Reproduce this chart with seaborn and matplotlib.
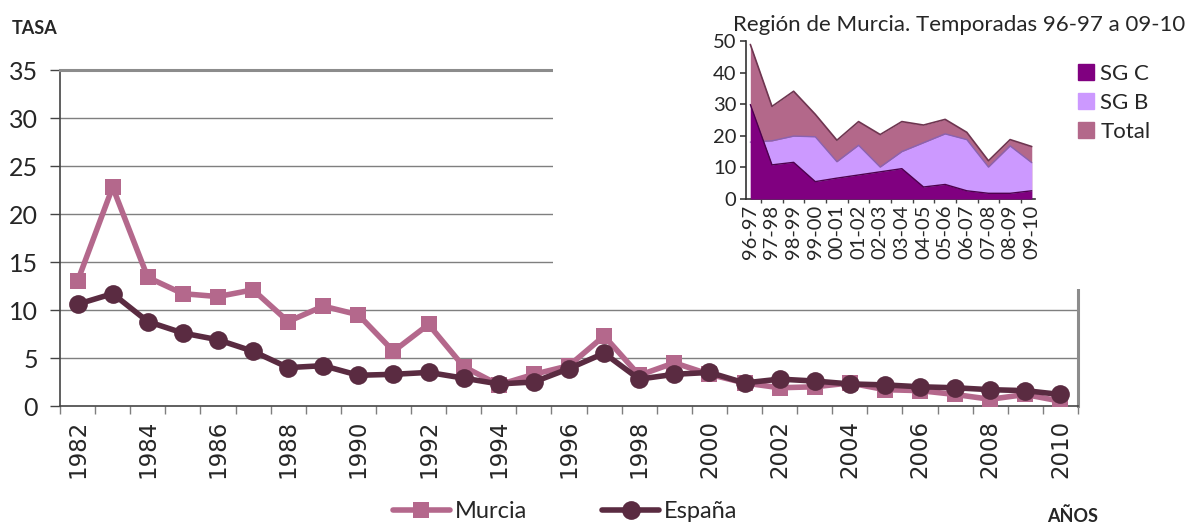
import matplotlib
matplotlib.use("Agg")
import matplotlib.pyplot as plt
import seaborn as sns
import numpy as np
import pandas as pd
from matplotlib.patches import Rectangle
from matplotlib.lines import Line2D

years = list(range(1982, 2011))
murcia = [13.0, 22.8, 13.4, 11.7, 11.4, 12.1, 8.8, 10.4, 9.5, 5.7, 8.5, 4.1, 2.2, 3.3, 4.2,
          7.3, 3.2, 4.5, 3.3, 2.4, 1.9, 2.0, 2.4, 1.7, 1.6, 1.2, 0.7, 1.2, 0.5]
espana = [10.6, 11.7, 8.8, 7.6, 6.9, 5.7, 4.0, 4.2, 3.2, 3.3, 3.5, 2.9, 2.3, 2.5, 3.9,
          5.5, 2.8, 3.3, 3.5, 2.4, 2.8, 2.6, 2.3, 2.2, 2.0, 1.9, 1.7, 1.6, 1.2]

seasons = ["96-97", "97-98", "98-99", "99-00", "00-01", "01-02", "02-03", "03-04",
           "04-05", "05-06", "06-07", "07-08", "08-09", "09-10"]
total = [48.9, 29.3, 34.1, 26.8, 18.6, 24.5, 20.4, 24.5, 23.4, 25.2, 21.1, 12.1, 18.8, 16.6]
sg_b = [18.0, 18.4, 19.9, 19.7, 11.8, 17.0, 10.1, 15.0, 17.8, 20.6, 18.8, 10.1, 16.8, 11.5]
sg_c = [29.9, 10.8, 11.6, 5.5, 6.6, 7.6, 8.6, 9.6, 3.8, 4.6, 2.6, 1.8, 1.8, 2.6]

C_MURCIA = "#B4688C"
C_ESP = "#5A2B41"
C_SGC = "#800080"
C_SGB = "#CC99FF"
C_TOT = "#B3688A"

sns.set_theme(style="white")
plt.rcParams['font.family'] = ['Lato', 'DejaVu Sans']

W, H = 1186, 525
fig = plt.figure(figsize=(W / 100, H / 100), dpi=100)

def fx(px):
    return px / W

def fy(py):
    return 1 - py / H

# ---------------- main chart ----------------
ax = fig.add_axes([fx(60), fy(406), fx(1078 - 60), (406 - 70) / H])
df = pd.DataFrame({"x": np.arange(len(years)), "Murcia": murcia, "España": espana})
sns.lineplot(data=df, x="x", y="Murcia", ax=ax, color=C_MURCIA, lw=4.0,
             marker="s", markersize=12, markeredgewidth=0, zorder=3)
sns.lineplot(data=df, x="x", y="España", ax=ax, color=C_ESP, lw=4.0,
             marker="o", markersize=13.5, markeredgewidth=0, zorder=4)
ax.set_xlim(-0.5, len(years) - 0.5)
ax.set_ylim(0, 35)
ax.set_yticks(range(0, 36, 5))
ax.set_yticklabels([str(v) for v in range(0, 36, 5)], fontsize=18)
for v in range(5, 35, 5):
    ax.axhline(v, color="#7f7f7f", lw=1.0, zorder=1)
ax.set_xticks(np.arange(0, len(years), 2))
ax.set_xticklabels([str(y) for y in years[::2]], rotation=90, fontsize=16.5,
                   family="DejaVu Sans")
ax.set_xticks(np.arange(-0.5, len(years), 1), minor=True)
ax.tick_params(axis="x", which="major", length=0, pad=10)
ax.tick_params(axis="x", which="minor", length=6, width=1, color="#7f7f7f", direction="out", bottom=True)
ax.tick_params(axis="y", which="major", length=7, width=1, color="#444444", direction="out", left=True, pad=9)
ax.set_xlabel("")
ax.set_ylabel("")
for s in ["left", "bottom"]:
    ax.spines[s].set_color("#444444")
    ax.spines[s].set_linewidth(1.2)
for s in ["top", "right"]:
    ax.spines[s].set_color("#8c8c8c")
    ax.spines[s].set_linewidth(2.2)
ax.set_facecolor("white")

fig.text(fx(12), fy(28), "TASA", fontsize=13, fontweight="bold", va="center", ha="left")
fig.text(fx(1047), fy(516), "AÑOS", fontsize=13, fontweight="bold", va="center", ha="left")

handles = [Line2D([], [], color=C_MURCIA, lw=4.0, marker="s", markersize=12, markeredgewidth=0),
           Line2D([], [], color=C_ESP, lw=4.0, marker="o", markersize=13.5, markeredgewidth=0)]
fig.legend(handles, ["Murcia", "España"], loc="center", bbox_to_anchor=(fx(565), fy(512)),
           ncol=2, frameon=False, fontsize=17, handlelength=2.4, columnspacing=3.2,
           handletextpad=0.2)

# white cover behind inset
fig.patches.append(Rectangle((fx(553), fy(289)), 1 - fx(553), 1 - fy(289),
                             transform=fig.transFigure, facecolor="white",
                             edgecolor="none", zorder=1))

# ---------------- inset ----------------
ix = fig.add_axes([fx(746), fy(199), fx(289), 158 / H], zorder=2)
xi = np.arange(len(seasons))
idf = pd.DataFrame({"x": xi, "Total": total, "SG B": sg_b, "SG C": sg_c})
ix.fill_between(xi, 0, total, color=C_TOT, lw=0, zorder=1)
sns.lineplot(data=idf, x="x", y="Total", ax=ix, color="#6e3550", lw=1.2, zorder=1.5)
ix.fill_between(xi, 0, sg_b, color=C_SGB, lw=0, zorder=2)
sns.lineplot(data=idf, x="x", y="SG B", ax=ix, color="#8a62b0", lw=1.0, zorder=2.5)
ix.fill_between(xi, 0, sg_c, color=C_SGC, lw=0, zorder=3)
sns.lineplot(data=idf, x="x", y="SG C", ax=ix, color="#4d004d", lw=1.0, zorder=3.5)
ix.set_xlim(-0.2, 13.15)
ix.set_ylim(0, 50)
ix.set_yticks(range(0, 51, 10))
ix.set_yticklabels([str(v) for v in range(0, 51, 10)], fontsize=14.5)
ix.set_xticks(xi)
ix.set_xticklabels(seasons, rotation=90, fontsize=14.5)
ix.set_xticks(np.arange(0.5, 13, 1), minor=True)
ix.tick_params(axis="x", which="major", length=0, pad=4)
ix.tick_params(axis="x", which="minor", length=3, color="#444444", direction="out", bottom=True)
ix.tick_params(axis="y", length=4, color="#444444", direction="out", left=True, pad=3)
ix.set_xlabel("")
ix.set_ylabel("")
for s in ["top", "right"]:
    ix.spines[s].set_visible(False)
for s in ["left", "bottom"]:
    ix.spines[s].set_color("#333333")
    ix.spines[s].set_linewidth(1.2)
ix.set_facecolor("white")
fig.text(fx(733), fy(25), "Región de Murcia. Temporadas 96-97 a 09-10", fontsize=16,
         va="center", ha="left")

ihandles = [Rectangle((0, 0), 1, 1, color=C_SGC), Rectangle((0, 0), 1, 1, color=C_SGB),
            Rectangle((0, 0), 1, 1, color=C_TOT)]
fig.legend(ihandles, ["SG C", "SG B", "Total"], loc="upper left",
           bbox_to_anchor=(fx(1058), fy(44)), frameon=False, fontsize=16,
           handlelength=0.7, handleheight=0.7, handletextpad=0.3, labelspacing=0.4)

fig.savefig("out.png", dpi=100)
